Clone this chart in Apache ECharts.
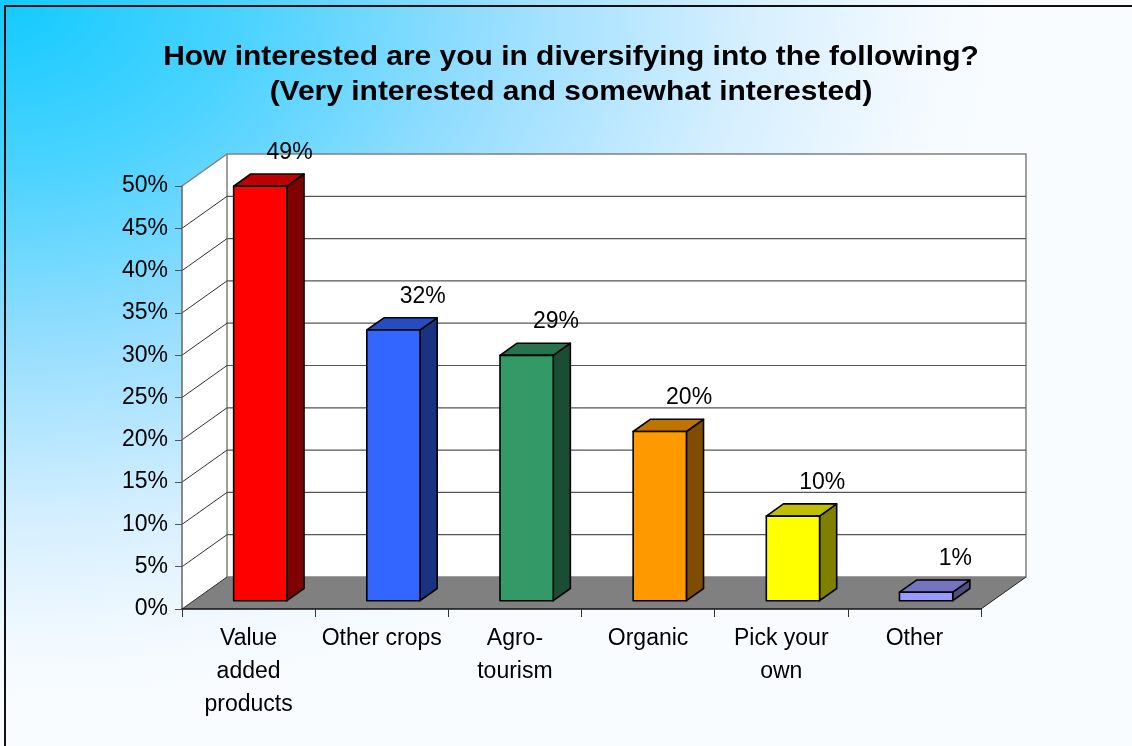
<!DOCTYPE html>
<html>
<head>
<meta charset="utf-8">
<script src="https://cdn.jsdelivr.net/npm/echarts@6/dist/echarts.min.js"></script>
<style>
  html, body { margin: 0; padding: 0; background: #fff; }
  #chart { width: 1132px; height: 746px; }
</style>
</head>
<body>
<div id="chart"></div>
<script>
// Survey answers: share of respondents "very" or "somewhat" interested
const categories = ['Value\nadded\nproducts', 'Other crops', 'Agro-\ntourism', 'Organic', 'Pick your\nown', 'Other'];
const shares = [0.49, 0.32, 0.29, 0.20, 0.10, 0.01];
const barColors = ['#FF0000', '#3366FF', '#339966', '#FF9900', '#FFFF00', '#9999FF'];
const yTicks = [0, 0.05, 0.10, 0.15, 0.20, 0.25, 0.30, 0.35, 0.40, 0.45, 0.50];
const titleLines = ['How interested are you in diversifying into the following?', '(Very interested and somewhat interested)'];

// 3D look: offset from the front plane to the back wall
const DEPTH = [45, -32];
const BAR_FRONT = 0.26;   // bar front face, as fraction of depth
const BAR_BACK = 0.64;    // bar back face
const BAR_HALF = 0.2;     // half bar width, as fraction of category band
const FONT = '"Liberation Sans", Arial, sans-serif';

function shade(hex, k) {
  const n = parseInt(hex.slice(1), 16);
  const r = Math.round(((n >> 16) & 255) * k);
  const g = Math.round(((n >> 8) & 255) * k);
  const b = Math.round((n & 255) * k);
  return 'rgb(' + r + ',' + g + ',' + b + ')';
}
const pct = v => Math.round(v * 100) + '%';

// Side wall, back wall, gridlines and floor
function renderBackdrop(params, api) {
  const cs = params.coordSys;
  const x0 = cs.x, x1 = cs.x + cs.width;
  const yTop = cs.y, yBot = cs.y + cs.height;
  const dx = DEPTH[0], dy = DEPTH[1];
  const children = [];
  children.push({
    type: 'polygon',
    shape: { points: [[x0, yBot], [x0 + dx, yBot + dy], [x0 + dx, yTop + dy], [x0, yTop]] },
    style: { fill: '#fff', stroke: null }
  });
  children.push({
    type: 'rect',
    shape: { x: x0 + dx, y: yTop + dy, width: x1 - x0, height: yBot - yTop },
    style: { fill: '#fff', stroke: '#808080', lineWidth: 1.5 }
  });
  yTicks.forEach(t => {
    if (t === 0) return;
    const y = api.coord([0, t])[1];
    const top = t === yTicks[yTicks.length - 1];
    children.push({
      type: 'line',
      shape: { x1: x0, y1: y, x2: x0 + dx, y2: y + dy },
      style: { stroke: top ? '#808080' : '#333', lineWidth: top ? 1.5 : 1 }
    });
    if (!top) {
      children.push({
        type: 'line',
        shape: { x1: x0 + dx, y1: y + dy, x2: x1 + dx, y2: y + dy },
        style: { stroke: '#555', lineWidth: 1.2 }
      });
    }
  });
  children.push({
    type: 'polygon',
    shape: { points: [[x0, yBot], [x1, yBot], [x1 + dx, yBot + dy], [x0 + dx, yBot + dy]] },
    style: { fill: '#808080', stroke: null }
  });
  children.push({
    type: 'line',
    shape: { x1: x0, y1: yBot, x2: x0 + dx, y2: yBot + dy },
    style: { stroke: '#333', lineWidth: 1 }
  });
  children.push({
    type: 'line',
    shape: { x1: x1, y1: yBot, x2: x1 + dx, y2: yBot + dy },
    style: { stroke: '#222', lineWidth: 1 }
  });
  return { type: 'group', children: children };
}

// One 3D column: front, top and side faces plus its value label
function renderBar(params, api) {
  const i = api.value(0), v = api.value(1);
  const top = api.coord([i, v]);
  const base = api.coord([i, 0]);
  const band = api.size([1, 0])[0];
  const hw = band * BAR_HALF;
  const f = [DEPTH[0] * BAR_FRONT, DEPTH[1] * BAR_FRONT];
  const b = [DEPTH[0] * BAR_BACK, DEPTH[1] * BAR_BACK];
  const xl = top[0] - hw, xr = top[0] + hw;
  const yt = top[1], yb = base[1];
  const col = barColors[i];
  const edge = { stroke: '#000', lineWidth: 1.6, lineJoin: 'round' };
  return {
    type: 'group',
    children: [
      {
        type: 'polygon',
        shape: { points: [[xr + f[0], yt + f[1]], [xr + b[0], yt + b[1]], [xr + b[0], yb + b[1]], [xr + f[0], yb + f[1]]] },
        style: Object.assign({ fill: shade(col, 0.5) }, edge)
      },
      {
        type: 'polygon',
        shape: { points: [[xl + f[0], yt + f[1]], [xr + f[0], yt + f[1]], [xr + b[0], yt + b[1]], [xl + b[0], yt + b[1]]] },
        style: Object.assign({ fill: shade(col, 0.75) }, edge)
      },
      {
        type: 'rect',
        shape: { x: xl + f[0], y: yt + f[1], width: 2 * hw, height: yb - yt },
        style: Object.assign({ fill: col }, edge)
      },
      {
        type: 'text',
        x: top[0] + 41,
        y: yt - 42,
        style: {
          text: pct(v),
          font: '23px ' + FONT,
          fill: '#000',
          align: 'center',
          verticalAlign: 'middle'
        }
      }
    ]
  };
}

const chart = echarts.init(document.getElementById('chart'), null, { renderer: 'canvas' });

chart.setOption({
  animation: false,
  backgroundColor: '#F8FCFF',
  graphic: {
    elements: [
      {
        type: 'rect',
        z: -100,
        silent: true,
        x: 0, y: 0,
        scaleX: 1, scaleY: 0.7,
        originX: 0, originY: 0,
        shape: { x: 0, y: 0, width: 1132, height: 1132 },
        style: {
          fill: {
            type: 'radial', x: 0, y: 0, r: 1000, global: true,
            colorStops: [
              { offset: 0, color: '#12CAFF' },
              { offset: 0.25, color: '#4CD3FF' },
              { offset: 0.5, color: '#98DEFF' },
              { offset: 0.75, color: '#D6EFFF' },
              { offset: 0.92, color: '#F2F9FF' },
              { offset: 1, color: '#F8FCFF' }
            ]
          }
        }
      },
      {
        type: 'rect',
        z: 100,
        silent: true,
        shape: { x: 5, y: 6, width: 1200, height: 800 },
        style: { fill: null, stroke: '#111', lineWidth: 2 }
      },
      {
        type: 'text',
        z: 100,
        x: 571, y: 75,
        scaleX: 1.07, scaleY: 1,
        originX: 0, originY: 0,
        style: {
          text: titleLines.join('\n'),
          font: 'bold 28px ' + FONT,
          lineHeight: 35,
          fill: '#000',
          align: 'center',
          verticalAlign: 'middle'
        }
      }
    ]
  },
  grid: { left: 182, top: 186, width: 799, height: 423, containLabel: false },
  xAxis: {
    type: 'category',
    data: categories,
    boundaryGap: true,
    z: 10,
    axisLine: { show: true, lineStyle: { color: '#111', width: 1.5 } },
    axisTick: { show: true, length: 8, lineStyle: { color: '#333', width: 1 } },
    axisLabel: { interval: 0, margin: 13, fontSize: 23, fontFamily: FONT, color: '#000', lineHeight: 33 },
    splitLine: { show: false }
  },
  yAxis: {
    type: 'value',
    min: 0, max: 0.5, interval: 0.05,
    z: 10,
    axisLine: { show: true, lineStyle: { color: '#666', width: 1.5 } },
    axisTick: { show: true, length: 7, lineStyle: { color: '#555', width: 1 } },
    axisLabel: { margin: 14, fontSize: 23, fontFamily: FONT, color: '#000', formatter: pct },
    splitLine: { show: false }
  },
  series: [
    {
      type: 'custom',
      name: 'backdrop',
      z: 1,
      silent: true,
      renderItem: renderBackdrop,
      data: [[0, 0]],
      encode: { x: 0, y: 1 }
    },
    {
      type: 'custom',
      name: 'Interested',
      z: 3,
      renderItem: renderBar,
      data: shares.map((v, i) => [i, v]),
      encode: { x: 0, y: 1 }
    }
  ]
});
</script>
</body>
</html>
